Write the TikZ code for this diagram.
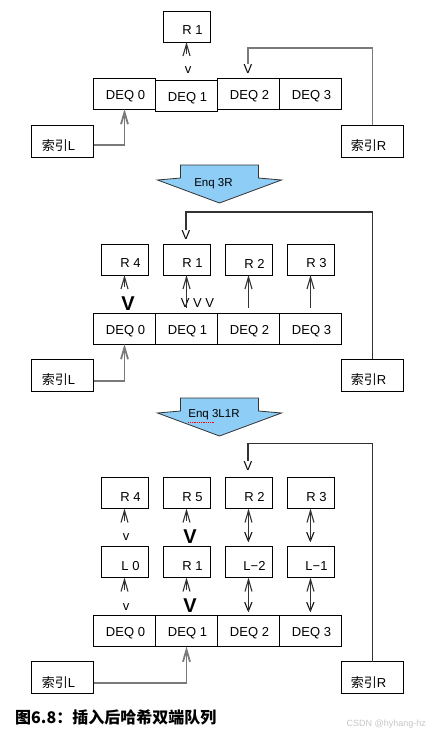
\documentclass[tikz,border=0pt]{standalone}
\usepackage{fontspec}
\setmainfont{Liberation Sans}
\newfontfamily\cjk{Noto Sans CJK SC}
\usetikzlibrary{arrows.meta,positioning}
\definecolor{EnqBlue}{HTML}{8DCDF6}
\definecolor{LineGray}{HTML}{7A7A7A}
\definecolor{Dark}{HTML}{333333}
\tikzset{
  lbl/.style={font=\fontsize{13}{15}\selectfont, inner sep=0pt},
  rbox/.style={draw, line width=1pt, minimum width=47pt, minimum height=31pt,
    outer sep=0pt, label={[lbl, xshift=6pt, yshift=-4pt]center:#1}},
  deq/.style={draw, line width=1pt, minimum width=62pt, minimum height=31pt,
    outer sep=0pt, label={[lbl, xshift=1pt, yshift=-2.5pt]center:#1}},
  idx/.style={draw, line width=1pt, minimum width=62pt, minimum height=32pt,
    outer sep=0pt, label={[lbl, xshift=-4pt, yshift=-5pt]center:#1}},
  vsmall/.style={font=\fontsize{13}{15}\selectfont, inner sep=0pt},
  vcap/.style={font=\fontsize{13}{15}\selectfont, inner sep=0pt},
  vbold/.style={font=\fontsize{20}{22}\selectfont\bfseries, inner sep=0pt},
  enqtxt/.style={font=\fontsize{11.5}{13}\selectfont, inner sep=0pt},
  ptr/.style={line width=1.8pt, draw=LineGray, -{Straight Barb[length=12pt,width=7pt]}},
  lnk/.style={line width=1.1pt, draw=Dark, -{Straight Barb[length=12pt,width=7pt]}},
  feed/.style={line width=1.1pt, draw=Dark},
  feedgray/.style={line width=1.8pt, draw=LineGray},
  enqarrow/.pic={
    \draw[fill=EnqBlue, draw=Dark, line width=0.8pt]
      (-39,0) -- (39,0) -- (39,13) -- (62,15) -- (0,38) -- (-62,15) -- (-39,13) -- cycle;
  }
}

\begin{document}
\begin{tikzpicture}[x=1pt, y=-1pt]
  \useasboundingbox (0,0) rectangle (429,736);

  % before
  \node[deq={DEQ 0}] (a0) at (124.5,93.5) {};
  \node[deq={DEQ 1}, right=0pt of a0, yshift=-2pt] (a1) {};
  \node[deq={DEQ 2}, right=0pt of a1, yshift=2pt] (a2) {};
  \node[deq={DEQ 3}, right=0pt of a2] (a3) {};
  \node[rbox={R 1}, above=38pt of a1] (r1a) {};
  \node[idx={{\cjk 索引}L}, below left=16pt and 0pt of a0] (iL1) {};
  \node[idx={{\cjk 索引}R}, below right=16pt and 0pt of a3] (iR1) {};
  \node[vsmall] (v0) at (188,70) {v};
  \node[vcap] (v1) at (248,69) {V};
  \draw[lnk] ([yshift=-12pt]r1a.south) -- (r1a.south);
  \draw[ptr] ([yshift=-4pt]iL1.east) -| (a0.south);
  \draw[feedgray] (iR1.north) -- ++(0,-77) -| (v1.north);

  \pic at (219.5,165) {enqarrow};
  \node[enqtxt] (e1) at (213.5,183.5) {Enq 3R};

  % after Enq 3R
  \node[deq={DEQ 0}] (b0) at (124.5,328.5) {};
  \node[deq={DEQ 1}, right=0pt of b0] (b1) {};
  \node[deq={DEQ 2}, right=0pt of b1] (b2) {};
  \node[deq={DEQ 3}, right=0pt of b2] (b3) {};
  \node[rbox={R 4}, above=38pt of b0] (p2r4) {};
  \node[rbox={R 1}, above=38pt of b1] (p2r1) {};
  \node[rbox={R 2}, above=38pt of b2] (p2r2) {};
  \node[rbox={R 3}, above=38pt of b3] (p2r3) {};
  \node[idx={{\cjk 索引}L}, below left=15pt and 0pt of b0] (iL2) {};
  \node[idx={{\cjk 索引}R}, below right=15pt and 0pt of b3] (iR2) {};
  \node[vcap] (v2) at (186,235) {V};
  \node[vbold] (v3) at (128,304) {V};
  \node[vcap] (v4) at (197.5,303) {V V V};
  \draw[ptr] ([yshift=-6pt]iL2.east) -| (b0.south);
  \draw[feed] (iR2.north) -- ++(0,-147) -| (v2.north);
  \draw[lnk] ([yshift=-12pt]p2r4.south) -- (p2r4.south);
  \draw[lnk] (p2r1.south |- v4.south) -- (p2r1.south);
  \draw[lnk] ([yshift=5pt]b2.north) -- (p2r2.south);
  \draw[lnk] ([yshift=5pt]b3.north) -- (p2r3.south);

  \pic at (219.5,398) {enqarrow};
  \node[enqtxt] (e2) at (214,415) {Enq 3L1R};
  \draw[red, densely dotted, line width=0.8pt]
    ([yshift=-2pt]e2.south west) -- ([xshift=-25pt, yshift=-2pt]e2.south east);

  % after Enq 3L1R
  \node[deq={DEQ 0}] (c0) at (124.5,631) {};
  \node[deq={DEQ 1}, right=0pt of c0] (c1) {};
  \node[deq={DEQ 2}, right=0pt of c1] (c2) {};
  \node[deq={DEQ 3}, right=0pt of c2] (c3) {};
  \node[rbox={L 0}, above=38pt of c0] (m0) {};
  \node[rbox={R 1}, above=38pt of c1] (m1) {};
  \node[rbox={L−2}, above=38pt of c2] (m2) {};
  \node[rbox={L−1}, above=38pt of c3] (m3) {};
  \node[rbox={R 4}, above=38pt of m0] (t0) {};
  \node[rbox={R 5}, above=38pt of m1] (t1) {};
  \node[rbox={R 2}, above=38pt of m2] (t2) {};
  \node[rbox={R 3}, above=38pt of m3] (t3) {};
  \node[idx={{\cjk 索引}L}, below left=15pt and 0pt of c0] (iL3) {};
  \node[idx={{\cjk 索引}R}, below right=15pt and 0pt of c3] (iR3) {};
  \node[vcap] (v5) at (248,466) {V};
  \node[vsmall] (v6) at (126,537) {v};
  \node[vsmall] (v7) at (126,607) {v};
  \node[vbold] (v8) at (190,537) {V};
  \node[vbold] (v9) at (190,606) {V};
  \node[vcap] (v10) at (248.5,537) {V};
  \node[vcap] (v11) at (248.5,607) {V};
  \node[vcap] (v12) at (310.5,537) {V};
  \node[vcap] (v13) at (310.5,607) {V};
  \draw[ptr] ([yshift=-5.5pt]iL3.east) -| (c1.south);
  \draw[feed] (iR3.north) -- ++(0,-218) -| (v5.north);
  \draw[lnk] ([yshift=-12pt]t0.south) -- (t0.south);
  \draw[lnk] ([yshift=-12pt]m0.south) -- (m0.south);
  \draw[lnk] ([yshift=-12pt]t1.south) -- (t1.south);
  \draw[lnk] ([yshift=-12pt]m1.south) -- (m1.south);
  \draw[lnk] (v10.south) -- (t2.south);
  \draw[lnk] (v11.south) -- (m2.south);
  \draw[lnk] (v12.south) -- (t3.south);
  \draw[lnk] (v13.south) -- (m3.south);

  \node[anchor=west, inner sep=0pt, font=\cjk\bfseries\fontsize{16}{18}\selectfont] (cap) at (15,717) {图6.8：插入后哈希双端队列};
  \node[anchor=east, inner sep=0pt, text=gray!45, font=\fontsize{9}{10}\selectfont] (wm) at (426,724) {CSDN @hyhang-hz};
\end{tikzpicture}
\end{document}
